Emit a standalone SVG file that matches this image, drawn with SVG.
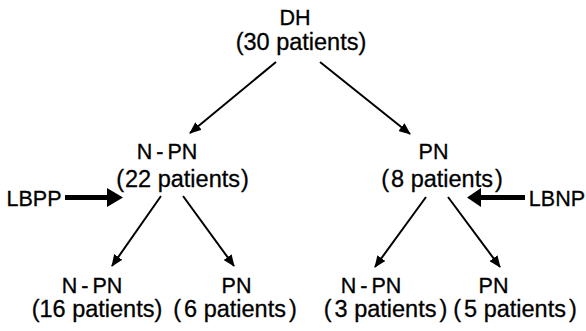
<svg xmlns="http://www.w3.org/2000/svg" width="586" height="331" viewBox="0 0 586 331">
<defs>
<style>
text{font-family:"Liberation Sans",Arial,sans-serif;fill:#000;text-anchor:middle;stroke:#000;stroke-width:0.3}
.cap{font-size:21.5px}
.sub{font-size:23.5px}
.conn{stroke:#000;stroke-width:2;fill:none;marker-end:url(#ah)}
.thick{stroke:#000;stroke-width:5;fill:none}
</style>
<marker id="ah" viewBox="0 0 12 10" refX="11" refY="5" markerWidth="12" markerHeight="10" markerUnits="userSpaceOnUse" orient="auto">
<path d="M0,0 L12,5 L0,10 Z" fill="#000"/>
</marker>
</defs>
<rect width="586" height="331" fill="#fff"/>
<g id="connectors">
<line class="conn" x1="276" y1="62" x2="190" y2="133"/>
<line class="conn" x1="320" y1="62" x2="410" y2="134"/>
<line class="conn" x1="161" y1="196" x2="112" y2="266"/>
<line class="conn" x1="183" y1="196" x2="234" y2="266"/>
<line class="conn" x1="426" y1="197" x2="375" y2="267"/>
<line class="conn" x1="448" y1="197" x2="500" y2="267"/>
<line class="thick" x1="65" y1="197.5" x2="110" y2="197.5"/>
<path d="M107,188 L123,197.5 L107,207 Z" fill="#000"/>
<line class="thick" x1="525" y1="197.5" x2="478" y2="197.5"/>
<path d="M481,188 L467,197.5 L481,207 Z" fill="#000"/>
</g>
<g id="dh">
<text class="cap" x="295" y="25">DH</text>
<text class="sub" x="301" y="50">(30 patients)</text>
</g>
<g id="npn1">
<text class="cap" x="167" y="159">N<tspan dx="4">-</tspan><tspan dx="4">PN</tspan></text>
<text class="sub" x="182.5" y="187">(<tspan dx="1">22 patients</tspan><tspan dx="1">)</tspan></text>
</g>
<g id="pn1">
<text class="cap" x="433.5" y="159">PN</text>
<text class="sub" x="442" y="187">(<tspan dx="2">8 patients</tspan><tspan dx="2">)</tspan></text>
</g>
<g id="lbpp">
<text class="cap" x="6.5" y="206" style="text-anchor:start">LBPP</text>
</g>
<g id="lbnp">
<text class="cap" x="585" y="206" style="text-anchor:end">LBNP</text>
</g>
<g id="npn2">
<text class="cap" x="92" y="293">N<tspan dx="4">-</tspan><tspan dx="4">PN</tspan></text>
<text class="sub" x="97" y="317">(16 patients)</text>
</g>
<g id="pn2">
<text class="cap" x="236.5" y="293">PN</text>
<text class="sub" x="235" y="317">(<tspan dx="3">6 patients</tspan><tspan dx="3">)</tspan></text>
</g>
<g id="npn3">
<text class="cap" x="371" y="293">N<tspan dx="4">-</tspan><tspan dx="4">PN</tspan></text>
<text class="sub" x="385.5" y="317">(<tspan dx="3">3 patients</tspan><tspan dx="3">)</tspan></text>
</g>
<g id="pn3">
<text class="cap" x="493.5" y="293">PN</text>
<text class="sub" x="515" y="317">(<tspan dx="3">5 patients</tspan><tspan dx="3">)</tspan></text>
</g>
</svg>
